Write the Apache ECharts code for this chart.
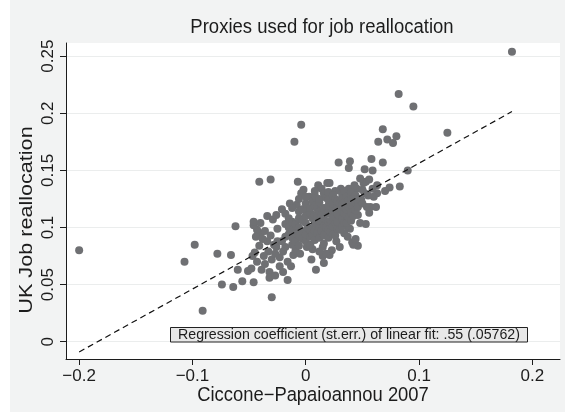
<!DOCTYPE html>
<html><head><meta charset="utf-8">
<script src="https://cdn.jsdelivr.net/npm/echarts@6/dist/echarts.min.js"></script>
<style>html,body{margin:0;padding:0;background:#fff}#c{width:565px;height:412px}</style>
</head><body><div id="c"></div>
<script>
const chartTitle = 'Proxies used for job reallocation';
const xTitle = 'Ciccone\u2212Papaioannou 2007';
const yTitle = 'UK Job reallocation';
const noteText = 'Regression coefficient (st.err.) of linear fit: .55 (.05762)';
const xTicks = [-0.2, -0.1, 0, 0.1, 0.2];
const yTicks = [0, 0.05, 0.1, 0.15, 0.2, 0.25];
const fitX = [-0.2, 0.182];
const fitY = [-0.009, 0.2015];

// scattered points outside the dense core: [Ciccone-Papaioannou, UK job reallocation]
const outerPoints = [
  [-0.200,0.080],[0.182,0.254],[0.082,0.217],[0.095,0.206],[0.125,0.183],
  [-0.004,0.190],[-0.010,0.175],[0.068,0.186],[0.064,0.175],[0.072,0.177],
  [0.077,0.174],[0.080,0.180],[0.090,0.150],[0.083,0.136],[0.074,0.135],
  [0.070,0.132],[0.068,0.157],[0.058,0.160],[0.059,0.150],[0.052,0.151],
  [0.063,0.130],[0.029,0.157],[0.039,0.158],[0.038,0.152],[-0.041,0.140],
  [-0.031,0.142],[-0.007,0.140],[-0.002,0.133],[-0.004,0.130],[0.011,0.137],
  [0.019,0.139],[-0.098,0.085],[-0.107,0.070],[-0.091,0.027],[-0.078,0.077],
  [-0.066,0.076],[-0.074,0.050],[-0.064,0.048],[-0.062,0.101],[-0.060,0.063],
  [-0.056,0.053],[-0.046,0.052],[-0.030,0.039],[-0.016,0.054],[0.009,0.063],
  [0.016,0.069],[0.015,0.075]
];
// points at the edge of the main cloud
const edgePoints = [
  [-0.051,0.062],[-0.048,0.064],[-0.039,0.063],[-0.043,0.070],[-0.032,0.061],
  [-0.032,0.056],[-0.023,0.066],[-0.030,0.072],[-0.033,0.079],[-0.026,0.083],
  [-0.023,0.074],[-0.013,0.066],[-0.011,0.076],[-0.009,0.080],[-0.045,0.078],
  [-0.041,0.084],[-0.047,0.075],[-0.040,0.095],[-0.043,0.098],[-0.046,0.102],
  [-0.034,0.110],[-0.029,0.107],[-0.021,0.116],[-0.008,0.120],[0.001,0.115],
  [0.046,0.084],[0.042,0.085],[0.053,0.103],[0.048,0.104],[0.039,0.099],
  [0.057,0.118],[0.062,0.118],[0.056,0.113],[0.055,0.128],[0.051,0.139],
  [0.053,0.140],[0.048,0.143],[0.056,0.142],[0.045,0.134],[0.038,0.134],
  [0.031,0.134],[0.021,0.139],[0.043,0.137],[0.052,0.130],[0.049,0.124],
  [0.054,0.118],[0.046,0.111],[0.023,0.080],[0.030,0.083],[0.027,0.088],
  [0.034,0.095],[0.041,0.087],[0.021,0.076],[0.015,0.083],[0.001,0.083],
  [0.018,0.077],[-0.018,0.083],[-0.034,0.088],[-0.046,0.105],[0.059,0.134],
  [0.036,0.101],[0.060,0.127],[0.063,0.137],[0.044,0.090],[0.037,0.092],
  [0.012,0.079],[0.006,0.081],[-0.005,0.077],[-0.016,0.070],[-0.036,0.068],
  [-0.037,0.075],[-0.044,0.092],[-0.040,0.104],[-0.026,0.111],[-0.014,0.121],
  [0.003,0.127],[0.014,0.134],[0.026,0.132],[-0.020,0.061],[-0.027,0.058],
  [0.005,0.072]
];
// dense core of the cloud
const corePoints = [
  [-0.025,0.088],[-0.025,0.099],[-0.038,0.090],[-0.036,0.097],[-0.031,0.093],
  [-0.028,0.085],[-0.027,0.077],[-0.020,0.079],[-0.021,0.088],
  [-0.018,0.092],[-0.018,0.103],[-0.018,0.112],
  [-0.015,0.094],[-0.015,0.100],[-0.015,0.108],
  [-0.012,0.085],[-0.012,0.091],[-0.012,0.098],[-0.012,0.105],[-0.012,0.117],
  [-0.009,0.088],[-0.009,0.095],[-0.009,0.103],
  [-0.006,0.084],[-0.006,0.093],[-0.006,0.100],[-0.006,0.108],[-0.006,0.114],[-0.006,0.125],
  [-0.003,0.090],[-0.003,0.097],[-0.003,0.106],[-0.003,0.116],
  [0.000,0.088],[0.000,0.094],[0.000,0.104],[0.000,0.110],[0.000,0.121],[0.000,0.127],
  [0.002,0.100],
  [0.004,0.085],[0.004,0.092],[0.004,0.098],[0.004,0.113],[0.004,0.117],
  [0.006,0.094],[0.006,0.108],[0.006,0.123],
  [0.008,0.089],[0.008,0.097],[0.008,0.103],[0.008,0.111],[0.008,0.119],[0.008,0.128],[0.008,0.132],
  [0.010,0.095],[0.010,0.110],[0.010,0.117],
  [0.012,0.091],[0.012,0.100],[0.012,0.106],[0.012,0.114],[0.012,0.122],[0.012,0.125],
  [0.014,0.097],[0.014,0.111],
  [0.016,0.086],[0.016,0.093],[0.016,0.102],[0.016,0.108],[0.016,0.117],[0.016,0.130],
  [0.018,0.100],[0.018,0.112],[0.018,0.126],
  [0.020,0.091],[0.020,0.098],[0.020,0.105],[0.020,0.114],[0.020,0.119],[0.020,0.124],[0.020,0.131],
  [0.022,0.096],[0.022,0.106],[0.022,0.112],
  [0.024,0.094],[0.024,0.101],[0.024,0.109],[0.024,0.116],[0.024,0.121],[0.024,0.128],
  [0.026,0.093],[0.026,0.104],[0.026,0.114],[0.026,0.125],
  [0.028,0.099],[0.028,0.105],[0.028,0.112],[0.028,0.118],[0.028,0.123],
  [0.030,0.098],[0.030,0.110],[0.030,0.121],
  [0.032,0.101],[0.032,0.108],[0.032,0.115],[0.032,0.120],[0.032,0.126],[0.032,0.130],
  [0.034,0.104],[0.034,0.113],[0.034,0.122],[0.034,0.132],
  [0.036,0.104],[0.036,0.111],[0.036,0.116],[0.036,0.127],
  [0.038,0.108],[0.038,0.118],[0.038,0.124],
  [0.040,0.106],[0.040,0.113],[0.040,0.120],[0.040,0.125],[0.040,0.131],
  [0.042,0.110],[0.042,0.126],
  [0.044,0.115],[0.044,0.122],[0.044,0.128],
  [0.046,0.118],[0.046,0.125],[0.050,0.121],[0.050,0.133]
];

const FONT = '"Liberation Sans", Arial, Helvetica, sans-serif';
const INK = '#1c1c1c';
const fmt = v => (v < -1e-9 ? '\u2212' : '') + String(Math.round(Math.abs(v) * 100) / 100);

const chart = echarts.init(document.getElementById('c'), null, {renderer: 'canvas'});
const allPoints = outerPoints.concat(edgePoints, corePoints);
const fitLine = fitX.map((x, i) => [x, fitY[i]]);

chart.setOption({
  animation: false,
  backgroundColor: '#f2f3f3',
  grid: {left: 66, right: 5, top: 43, bottom: 53, show: true, backgroundColor: '#ffffff', borderWidth: 0},
  xAxis: {
    type: 'value', min: -0.2116, max: 0.2244,
    axisLine: {show: true, onZero: false, lineStyle: {color: INK, width: 1}},
    axisTick: {show: true, length: 6, customValues: xTicks, lineStyle: {color: INK}},
    axisLabel: {customValues: xTicks, formatter: fmt, fontSize: 17, color: INK, margin: 9, fontFamily: FONT},
    splitLine: {show: false}
  },
  yAxis: {
    type: 'value', min: -0.01515, max: 0.26156,
    axisLine: {show: true, onZero: false, lineStyle: {color: INK, width: 1}},
    axisTick: {show: true, length: 6, customValues: yTicks, lineStyle: {color: INK}},
    axisLabel: {customValues: yTicks, formatter: fmt, fontSize: 17, color: INK, margin: 9, rotate: 90, fontFamily: FONT},
    splitLine: {show: true, lineStyle: {color: '#ebeded', width: 1}}
  },
  series: [
    {type: 'scatter', data: allPoints, symbol: 'circle', symbolSize: 8,
     itemStyle: {color: '#6f7073', opacity: 1}, silent: true, z: 2},
    {type: 'line', data: fitLine, symbol: 'none', silent: true, z: 3,
     lineStyle: {color: '#111', width: 1.2, type: [6, 4]}}
  ],
  graphic: [
    {type: 'rect', left: 0, top: 0, shape: {width: 10, height: 412}, style: {fill: '#ffffff'}, silent: true},
    {type: 'text', x: 322, y: 28, scaleY: 1.07, silent: true,
     style: {text: chartTitle, font: '18.5px ' + FONT, fill: INK, textAlign: 'center', textVerticalAlign: 'middle', align: 'center', verticalAlign: 'middle'}},
    {type: 'text', x: 313, y: 396, scaleY: 1.07, silent: true,
     style: {text: xTitle, font: '18.4px ' + FONT, fill: INK, textAlign: 'center', textVerticalAlign: 'middle', align: 'center', verticalAlign: 'middle'}},
    {type: 'text', x: 27, y: 220, rotation: Math.PI / 2, scaleX: 1.15, silent: true,
     style: {text: yTitle, font: '18.8px ' + FONT, fill: INK, textAlign: 'center', textVerticalAlign: 'middle', align: 'center', verticalAlign: 'middle'}},
    {type: 'rect', x: 170.5, y: 327.5, shape: {width: 357, height: 14.5}, silent: true, z: 10,
     style: {fill: '#e8e8e8', stroke: '#222', lineWidth: 1}},
    {type: 'text', x: 349, y: 335, silent: true, z: 11,
     style: {text: noteText, font: '14.2px ' + FONT, fill: INK, textAlign: 'center', textVerticalAlign: 'middle', align: 'center', verticalAlign: 'middle'}}
  ]
});
</script></body></html>
